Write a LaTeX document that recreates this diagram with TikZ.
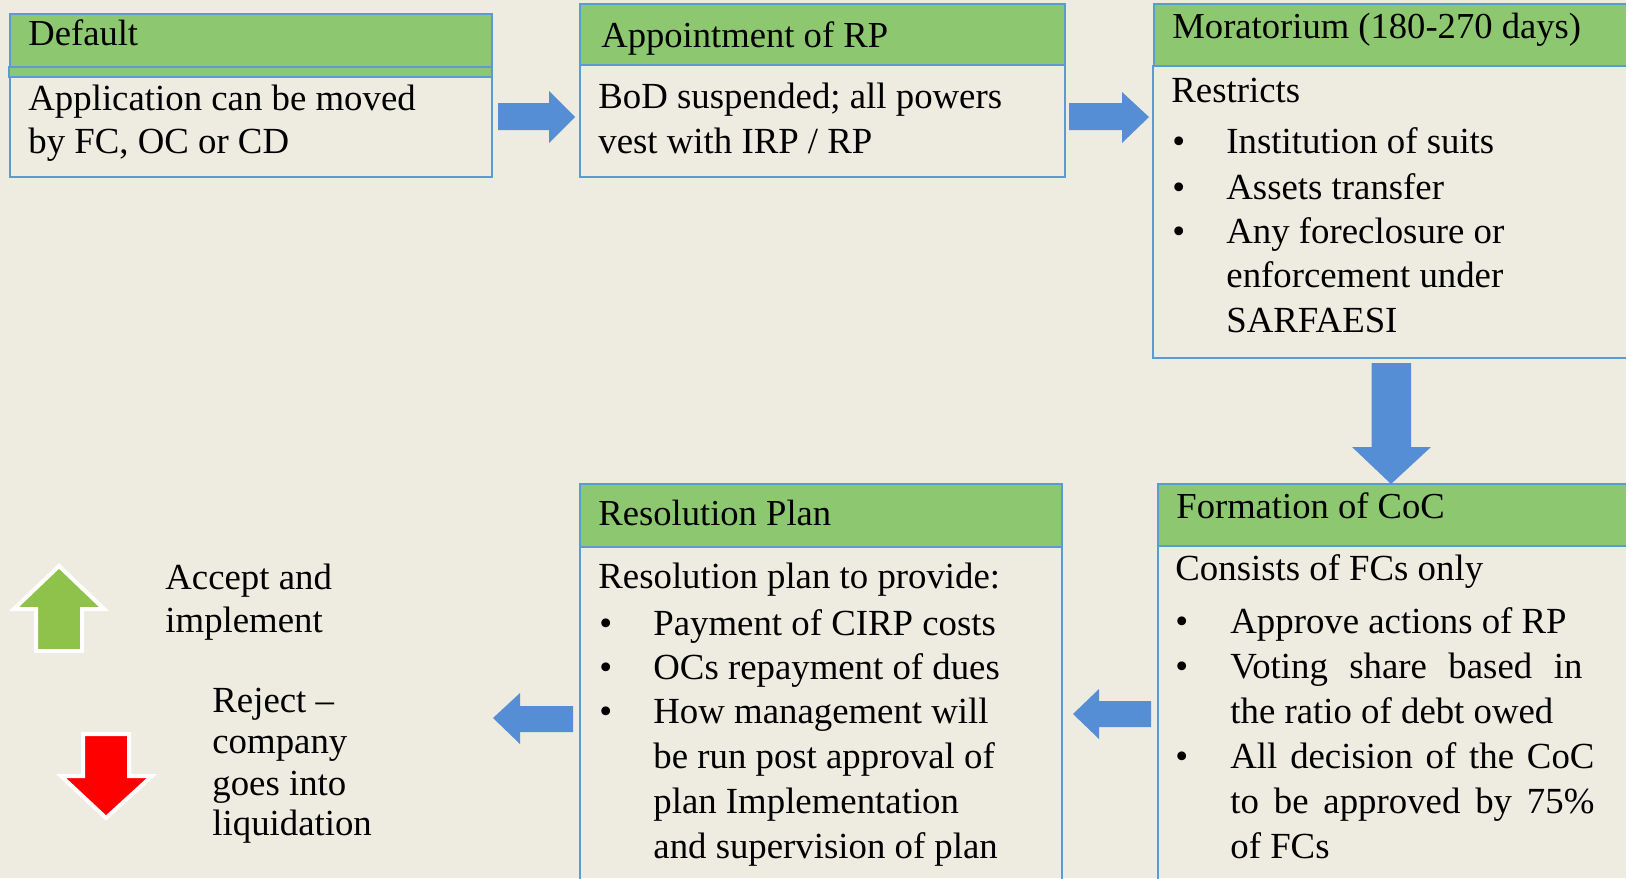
\documentclass[tikz,border=0pt]{standalone}
\usepackage{fontspec}
\setmainfont{Liberation Serif}
\definecolor{bg}{HTML}{EEECE1}
\definecolor{hdrgreen}{HTML}{8DC870}
\definecolor{boxblue}{HTML}{5B9BD5}
\definecolor{arrowblue}{HTML}{558ED5}
\definecolor{okgreen}{HTML}{8FC24A}
\definecolor{nored}{HTML}{FF0000}
\begin{document}
\begin{tikzpicture}[x=0.5pt,y=-0.5pt,
  txt/.style={anchor=base west,inner sep=0pt,font=\fontsize{18.4}{22}\selectfont},
  hdr/.style={anchor=base west,inner sep=0pt,font=\fontsize{18.3}{22}\selectfont},
  hfill/.style={fill=hdrgreen,draw=boxblue,line width=0.9pt},
  bodybox/.style={draw=boxblue,line width=0.9pt},
  blockarrow/.style={fill=arrowblue},
  signarrow/.style={draw=white,line width=2pt,line join=miter}]
\useasboundingbox (0,0) rectangle (1626,878);
\clip (0,0) rectangle (1626,878);
\fill[bg] (0,0) rectangle (1626,878);

% Box 1: Default
\draw[bodybox] (10,77) rectangle (492,177);
\draw[hfill] (10,14) rectangle (492,67);
\draw[hfill] (9,67) rectangle (492,77);
\node[hdr] (h1) at (28,45) {Default};
\node[txt] (b1a) at (28,110) {Application can be moved};
\node[txt] (b1b) at (28,153) {by FC, OC or CD};

% Box 2: Appointment of RP
\draw[bodybox] (580,65) rectangle (1065,177);
\draw[hfill] (580,4) rectangle (1065,65);
\node[hdr] (h2) at (601,47) {Appointment of RP};
\node[txt] (b2a) at (598,108) {BoD suspended; all powers};
\node[txt] (b2b) at (598,153) {vest with IRP / RP};

% Box 3: Moratorium
\draw[bodybox] (1153,66) rectangle (1660,358);
\draw[hfill] (1154,4) rectangle (1660,66);
\node[hdr] (h3) at (1172,38) {Moratorium (180-270 days)};
\node[txt] (b3a) at (1171,102) {Restricts};
\node[txt] (b3bul1) at (1172,153) {\textbullet};
\node[txt] (b3b) at (1226,153) {Institution of suits};
\node[txt] (b3bul2) at (1172,199) {\textbullet};
\node[txt] (b3c) at (1226,199) {Assets transfer};
\node[txt] (b3bul3) at (1172,243) {\textbullet};
\node[txt] (b3d) at (1226,243) {Any foreclosure or};
\node[txt] (b3e) at (1226,287) {enforcement under};
\node[txt] (b3f) at (1226,332) {SARFAESI};

% Box 4: Formation of CoC
\draw[bodybox] (1158,546) rectangle (1660,900);
\draw[hfill] (1158,484) rectangle (1660,546);
\node[hdr] (h4) at (1176,518) {Formation of CoC};
\node[txt] (b4a) at (1175,580) {Consists of FCs only};
\node[txt] (b4bul1) at (1175,633) {\textbullet};
\node[txt] (b4b) at (1230,633) {Approve actions of RP};
\node[txt] (b4bul2) at (1175,678) {\textbullet};
\node[txt] (b4c) at (1230,678) {\makebox[176pt][s]{Voting share based in}};
\node[txt] (b4d) at (1230,723) {the ratio of debt owed};
\node[txt] (b4bul3) at (1175,768) {\textbullet};
\node[txt] (b4e) at (1230,768) {\makebox[182pt][s]{All decision of the CoC}};
\node[txt] (b4f) at (1230,813) {\makebox[182pt][s]{to be approved by 75\%}};
\node[txt] (b4g) at (1230,858) {of FCs};

% Box 5: Resolution Plan
\draw[bodybox] (580,547) rectangle (1062,900);
\draw[hfill] (580,484) rectangle (1062,547);
\node[hdr] (h5) at (598,525) {Resolution Plan};
\node[txt] (b5a) at (598,588) {Resolution plan to provide:};
\node[txt] (b5bul1) at (599,635) {\textbullet};
\node[txt] (b5b) at (653,635) {Payment of CIRP costs};
\node[txt] (b5bul2) at (599,679) {\textbullet};
\node[txt] (b5c) at (653,679) {OCs repayment of dues};
\node[txt] (b5bul3) at (599,723) {\textbullet};
\node[txt] (b5d) at (653,723) {How management will};
\node[txt] (b5e) at (653,768) {be run post approval of};
\node[txt] (b5f) at (653,813) {plan Implementation};
\node[txt] (b5g) at (653,858) {and supervision of plan};

% Blue block arrows
\fill[blockarrow] (498,103) -- (549,103) -- (549,91) -- (575,117) -- (549,143) -- (549,130) -- (498,130) -- cycle;
\fill[blockarrow] (1069,103) -- (1122,103) -- (1122,92) -- (1149,117) -- (1122,143) -- (1122,130) -- (1069,130) -- cycle;
\fill[blockarrow] (1371.5,363) -- (1411,363) -- (1411,447) -- (1431,447) -- (1391,484) -- (1352,447) -- (1371.5,447) -- cycle;
\fill[blockarrow] (1151,701) -- (1099,701) -- (1099,689) -- (1073,714) -- (1099,739) -- (1099,727) -- (1151,727) -- cycle;
\fill[blockarrow] (573,706) -- (520,706) -- (520,693) -- (493,718) -- (520,744) -- (520,732) -- (573,732) -- cycle;

% Accept / reject
\draw[signarrow,fill=okgreen] (59,566) -- (104,609) -- (82,609) -- (82,651) -- (36,651) -- (36,609) -- (14,609) -- cycle;
\draw[signarrow,fill=nored] (83,734) -- (129,734) -- (129,776) -- (152,776) -- (106,818) -- (61,776) -- (83,776) -- cycle;
\node[txt] (acc1) at (165,589) {Accept and};
\node[txt] (acc2) at (165,632) {implement};
\node[txt] (rej1) at (212,712) {Reject –};
\node[txt] (rej2) at (212,753) {company};
\node[txt] (rej3) at (212,795) {goes into};
\node[txt] (rej4) at (212,835) {liquidation};
\end{tikzpicture}
\end{document}
